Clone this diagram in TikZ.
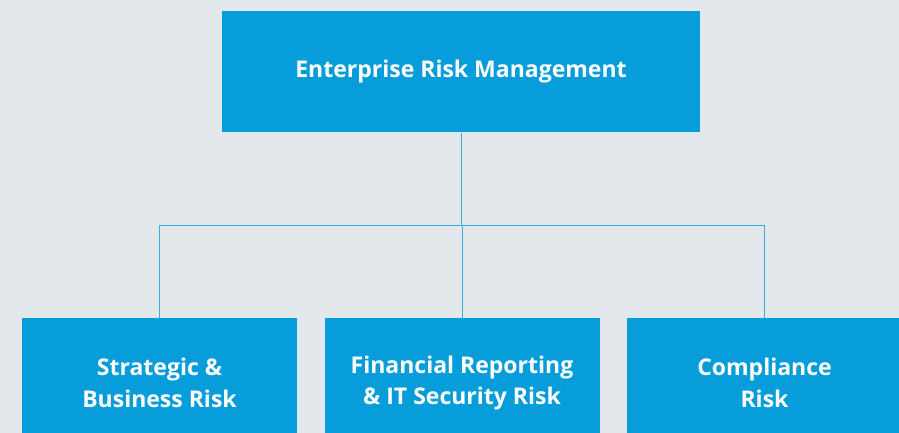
\documentclass[tikz,border=0pt]{standalone}
\usepackage{fontspec}
\setmainfont{Open Sans}
\usetikzlibrary{positioning}

\definecolor{riskblue}{HTML}{079DDA}
\definecolor{linkblue}{HTML}{3AABE0}
\definecolor{paper}{HTML}{E3E8ED}

\begin{document}
\begin{tikzpicture}[x=1pt,y=-1pt,draw=linkblue,line width=1pt]
		\tikzstyle{riskbox}=[rectangle,fill=riskblue,text=white,align=center,
			font=\fontsize{23}{31.5}\selectfont\bfseries,inner sep=0pt]
		\tikzstyle{top box}=[riskbox,minimum width=478pt,minimum height=121pt]
		\tikzstyle{sub box}=[riskbox,minimum width=275pt,minimum height=130pt]
		
		% Page and background
		\fill[paper] (0,0) rectangle (899,433);
		\useasboundingbox (0,0) rectangle (899,433);
		\clip (0,0) rectangle (899,433);
		
		% Top box
		\node[top box] (ERM) at (461,72) {Enterprise Risk Management};
		
		% Lower boxes
		\node[sub box] (R-1) at (159.5,383) {Strategic \&\\Business Risk};
		\node[sub box, right=26.5pt of R-1] (R-2) {Financial Reporting\\\& IT Security Risk};
		\node[sub box, right=26.5pt of R-2] (R-3) {Compliance\\Risk};
		
		% Bus line between the levels
		\coordinate (bus) at (461,225);
		
		% Connect top box with every lower box
		\foreach \dest in {1,...,3}
		\draw (ERM.south) |- (bus) -| (R-\dest.north);
\end{tikzpicture}
\end{document}
